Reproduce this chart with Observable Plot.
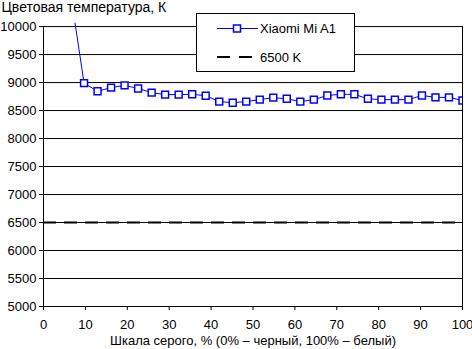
<!DOCTYPE html>
<html>
<head>
<meta charset="utf-8">
<script src="https://cdn.jsdelivr.net/npm/d3@7"></script>
<script src="https://cdn.jsdelivr.net/npm/@observablehq/plot@0.6"></script>
<style>
  body { margin: 0; background: #fff; }
  #wrap { position: relative; width: 472px; height: 349px; }
  #legend { position: absolute; left: 196px; top: 13px; }
</style>
</head>
<body>
<div id="wrap"></div>
<script>
// --- data ---
const title = "Цветовая температура, К";
const xLabel = "Шкала серого, % (0% – черный, 100% – белый)";
const grayPct = [6.45, 9.68, 12.9, 16.13, 19.35, 22.58, 25.81, 29.03, 32.26, 35.48,
                 38.71, 41.94, 45.16, 48.39, 51.61, 54.84, 58.06, 61.29, 64.52, 67.74,
                 70.97, 74.19, 77.42, 80.65, 83.87, 87.1, 90.32, 93.55, 96.77, 100];
const colorTemp = [10600, 8990, 8845, 8910, 8950, 8895, 8820, 8785, 8785, 8790,
                   8765, 8660, 8640, 8660, 8695, 8730, 8710, 8660, 8695, 8770,
                   8790, 8790, 8710, 8695, 8695, 8695, 8770, 8735, 8735, 8680];
const seriesName = "Xiaomi Mi A1";
const refName = "6500 K";
const refValue = 6500;
const xTicks = [0, 10, 20, 30, 40, 50, 60, 70, 80, 90, 100];
const yTicks = [5000, 5500, 6000, 6500, 7000, 7500, 8000, 8500, 9000, 9500, 10000];

const data = grayPct.map((x, i) => ({x, y: colorTemp[i]}));

const chart = Plot.plot({
  width: 472,
  height: 349,
  marginLeft: 43,
  marginRight: 10,
  marginTop: 22.7,
  marginBottom: 43,
  style: {fontFamily: "'Liberation Sans', Arial, sans-serif", fontSize: "13px", color: "#000", background: "#fff", overflow: "visible"},
  x: {domain: [0, 100]},
  y: {domain: [5000, 10060]},
  marks: [
    Plot.ruleY(yTicks, {x1: 0, x2: 100, stroke: "#000", strokeWidth: 1, strokeOpacity: 1}),
    Plot.ruleX([0, 100], {y1: 5000, y2: 10000, stroke: "#000", strokeWidth: 1}),
    Plot.ruleY([refValue], {x1: 0, x2: 100, stroke: "#000", strokeWidth: 2, strokeDasharray: "13,8"}),
    Plot.axisX({ticks: xTicks, tickSize: 4, tickPadding: 9, label: null, tickFormat: d => String(d), stroke: "#000", fill: "#000"}),
    Plot.axisY({ticks: yTicks, tickSize: 4, tickPadding: 3, label: null, tickFormat: d => String(d), stroke: "#000", fill: "#000"}),
    Plot.line(data, {x: "x", y: "y", stroke: "#0000ff", strokeWidth: 1, clip: "frame"}),
    Plot.dot(data, {x: "x", y: "y", symbol: "square", r: 3.9, stroke: "#0000ff", strokeWidth: 1.5, fill: "#fff", clip: "frame"}),
    Plot.text([title], {frameAnchor: "top-left", dx: -42, dy: -16, textAnchor: "start", lineAnchor: "middle", fill: "#000", fontSize: 14, letterSpacing: 0.3}),
    Plot.text([xLabel], {frameAnchor: "bottom", dy: 34, lineAnchor: "middle", fill: "#000"})
  ]
});

const wrap = document.getElementById("wrap");
wrap.appendChild(chart);

// legend overlay
const leg = d3.create("svg").attr("id", "legend").attr("width", 160).attr("height", 62)
  .style("font-family", "'Liberation Sans', Arial, sans-serif").style("font-size", "13px");
leg.append("rect").attr("x", 0.5).attr("y", 0.5).attr("width", 158).attr("height", 58)
  .attr("fill", "#fff").attr("stroke", "#000").attr("stroke-width", 1);
leg.append("line").attr("x1", 21).attr("x2", 62).attr("y1", 15.5).attr("y2", 15.5)
  .attr("stroke", "#0000ff").attr("stroke-width", 1);
leg.append("rect").attr("x", 37.5).attr("y", 12).attr("width", 7).attr("height", 7)
  .attr("fill", "#fff").attr("stroke", "#0000ff").attr("stroke-width", 1.5);
leg.append("text").attr("x", 64).attr("y", 15.5).attr("dy", "0.35em").text(seriesName);
leg.append("line").attr("x1", 21).attr("x2", 57).attr("y1", 44).attr("y2", 44)
  .attr("stroke", "#000").attr("stroke-width", 2).attr("stroke-dasharray", "13,9");
leg.append("text").attr("x", 64).attr("y", 44).attr("dy", "0.35em").text(refName);
wrap.appendChild(leg.node());
</script>
</body>
</html>
